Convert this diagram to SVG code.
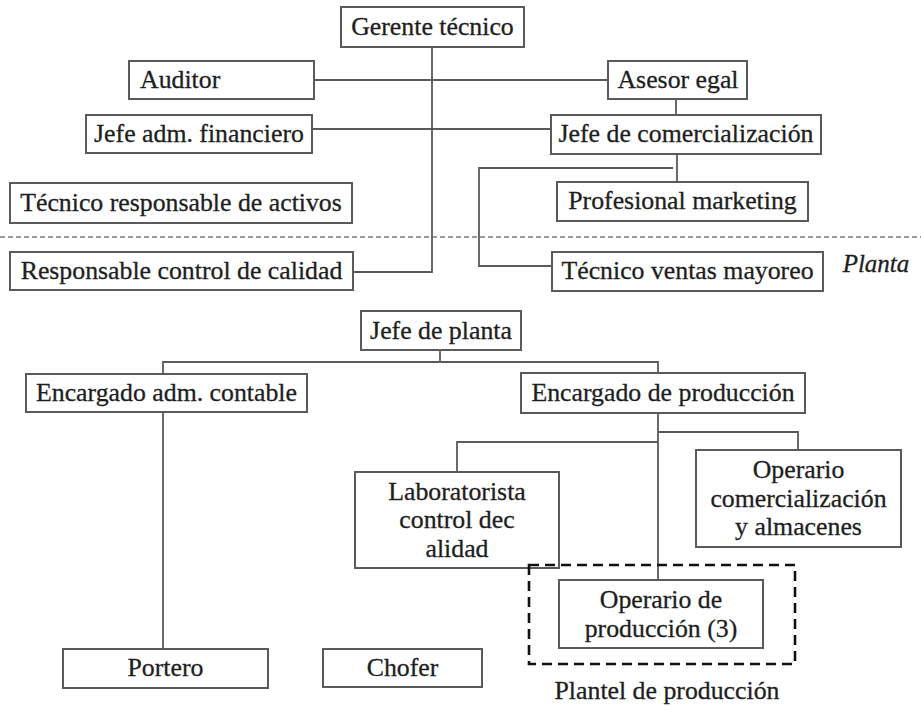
<svg xmlns="http://www.w3.org/2000/svg" width="921" height="706" viewBox="0 0 921 706">
<style>
.box{fill:#fff;stroke:#5a5a5a;stroke-width:2}
.t{font-family:"Liberation Serif","Times New Roman",serif;font-size:25.8px;fill:#1e1e1e;stroke:#1e1e1e;stroke-width:0.3;text-anchor:middle}
.ln{fill:none;stroke:#5a5a5a;stroke-width:1.8}
.sep{fill:none;stroke:#7a7a7a;stroke-width:1.5;stroke-dasharray:5 3}
.grp{fill:none;stroke:#111;stroke-width:2.6;stroke-dasharray:10 6}
</style>
<rect width="921" height="706" fill="#fff"/>
<line class="sep" x1="0" y1="237" x2="921" y2="237"/>
<g id="connectors">
<polyline class="ln" points="432,47 432,272 353,272"/>
<line class="ln" x1="314" y1="80" x2="608" y2="80"/>
<line class="ln" x1="312" y1="129" x2="551" y2="129"/>
<line class="ln" x1="676" y1="99" x2="676" y2="115"/>
<line class="ln" x1="677" y1="154" x2="677" y2="182"/>
<polyline class="ln" points="673,168 479,168 479,266 552,266"/>
<line class="ln" x1="440" y1="350" x2="440" y2="362"/>
<polyline class="ln" points="163,374 163,362 658,362 658,373"/>
<line class="ln" x1="163" y1="412" x2="163" y2="649"/>
<line class="ln" x1="658" y1="413" x2="658" y2="580"/>
<polyline class="ln" points="658,432 798,432 798,450"/>
<polyline class="ln" points="658,442 457,442 457,472"/>
</g>
<g id="gerente"><rect class="box" x="341" y="7" width="183" height="40"/><text class="t" x="432.5" y="35">Gerente técnico</text></g>
<g id="auditor"><rect class="box" x="129" y="61" width="185" height="38"/><text class="t" x="140" y="88" style="text-anchor:start">Auditor</text></g>
<g id="asesor"><rect class="box" x="608" y="61" width="139" height="38"/><text class="t" x="678" y="88">Asesor egal</text></g>
<g id="jefe-adm"><rect class="box" x="86" y="115" width="226" height="38"/><text class="t" x="199" y="142">Jefe adm. financiero</text></g>
<g id="jefe-com"><rect class="box" x="551" y="115" width="270" height="39"/><text class="t" x="686" y="142">Jefe de comercialización</text></g>
<g id="tecnico-activos"><rect class="box" x="10" y="183" width="342" height="40"/><text class="t" x="181" y="211">Técnico responsable de activos</text></g>
<g id="profesional"><rect class="box" x="557" y="182" width="251" height="39"/><text class="t" x="682.5" y="209">Profesional marketing</text></g>
<g id="resp-calidad"><rect class="box" x="10" y="252" width="343" height="38"/><text class="t" x="181.5" y="279">Responsable control de calidad</text></g>
<g id="tecnico-ventas"><rect class="box" x="552" y="252" width="271" height="39"/><text class="t" x="687.5" y="279">Técnico ventas mayoreo</text></g>
<text class="t" x="876" y="272" style="font-style:italic;font-size:25px">Planta</text>
<g id="jefe-planta"><rect class="box" x="361" y="311" width="160" height="39"/><text class="t" x="441" y="339">Jefe de planta</text></g>
<g id="enc-contable"><rect class="box" x="26" y="374" width="281" height="38"/><text class="t" x="166.5" y="401">Encargado adm. contable</text></g>
<g id="enc-produccion"><rect class="box" x="521" y="373" width="284" height="40"/><text class="t" x="663" y="401">Encargado de producción</text></g>
<g id="laboratorista"><rect class="box" x="355" y="472" width="204" height="96"/><text class="t" x="457" y="500">Laboratorista</text><text class="t" x="457" y="528">control dec</text><text class="t" x="457" y="557">alidad</text></g>
<g id="operario-com"><rect class="box" x="696" y="450" width="205" height="97"/><text class="t" x="798.5" y="478">Operario</text><text class="t" x="798.5" y="507">comercialización</text><text class="t" x="798.5" y="535">y almacenes</text></g>
<g id="plantel"><rect class="grp" x="529" y="565" width="266" height="99"/><text class="t" x="667" y="699">Plantel de producción</text></g>
<g id="operario-prod"><rect class="box" x="559" y="580" width="204" height="68"/><text class="t" x="661" y="608">Operario de</text><text class="t" x="661" y="637">producción (3)</text></g>
<g id="portero"><rect class="box" x="63" y="649" width="205" height="39"/><text class="t" x="165.5" y="676">Portero</text></g>
<g id="chofer"><rect class="box" x="323" y="649" width="159" height="38"/><text class="t" x="402.5" y="676">Chofer</text></g>
</svg>
